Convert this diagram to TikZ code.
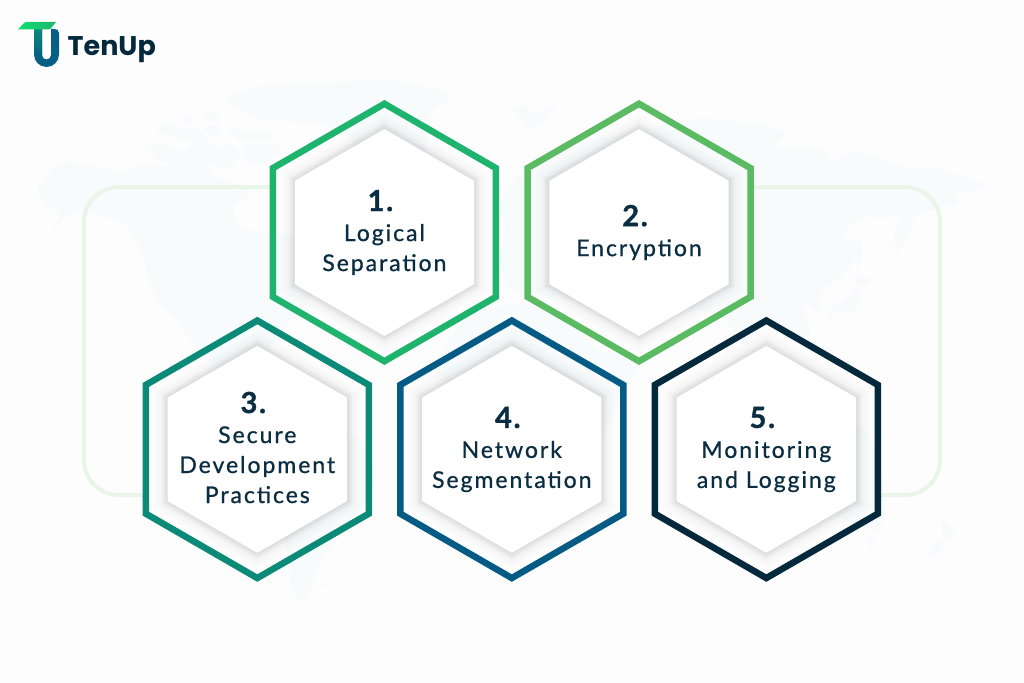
\documentclass[tikz,border=0pt]{standalone}
\usepackage{fontspec}
\setmainfont{Lato}
\newfontfamily\lblfont[LetterSpace=8.5,FakeBold=0.8]{Lato}
\newfontfamily\numfont[LetterSpace=6,FakeBold=1.2]{Lato}
\newfontfamily\logofont{Poppins}
\definecolor{pagebg}{HTML}{FDFDFD}
\definecolor{mapc}{HTML}{F7FBFC}
\definecolor{framec}{HTML}{E9F5E9}
\definecolor{inkc}{HTML}{0B2D42}
\definecolor{hexa}{HTML}{1FB46E}
\definecolor{hexb}{HTML}{5ABB62}
\definecolor{hexc}{HTML}{0B8A78}
\definecolor{hexd}{HTML}{065B85}
\definecolor{hexe}{HTML}{04293D}
\definecolor{logog}{HTML}{0CE070}
\tikzset{
  land/.style={fill=mapc,draw=none},
  frameline/.style={draw=framec,line width=4pt},
  hexlabel/.style={text=inkc,align=center,inner sep=0pt,font=\lblfont\fontsize{23}{30}\selectfont},
}
\newcommand{\numline}[1]{{\fontsize{29}{30}\selectfont\numfont\bfseries #1\kern8pt}}
\newcommand{\hexpath}[3]{(#1+#3*0.8660,#2-#3*0.5)--(#1,#2-#3)--(#1-#3*0.8660,#2-#3*0.5)--(#1-#3*0.8660,#2+#3*0.5)--(#1,#2+#3)--(#1+#3*0.8660,#2+#3*0.5)--cycle}
\newcommand{\landblob}[1]{\fill[land] plot[smooth cycle,tension=0.45] coordinates {#1};}
\newcommand{\hexcell}[6]{%
  \foreach \d in {1,2,3,4,5,6,7,8,9,10,11,12,13,14}{
    \draw[black,opacity=0.003,line width=2*\d pt,line join=miter] \hexpath{#2}{#3}{103.5};
  }
  \foreach \d in {1,2,3,4,5,6}{
    \draw[black,opacity=0.012,line width=2*\d pt,line join=miter] \hexpath{#2}{#3}{103.5};
  }
  \fill[white] \hexpath{#2}{#3}{103.5};
  \draw[#4,line width=6.5pt,line join=miter] \hexpath{#2}{#3}{128.75};
  \node[hexlabel] (#1) at (#2,#5) {#6};
}
\begin{document}
\begin{tikzpicture}[x=1pt,y=-1pt]
\useasboundingbox (0,0) rectangle (1024,682);
\fill[pagebg] (0,0) rectangle (1024,682);
% world map
\landblob{(38,188)(52,170)(67,162)(100,167)(120,172)(140,165)(167,167)(187,173)(217,177)(250,192)(233,207)(240,227)(270,233)(300,235)(330,225)(345,255)(320,285)(300,310)(275,340)(255,375)(300,420)(270,400)(235,385)(210,360)(193,343)(177,320)(157,300)(143,257)(137,243)(127,227)(100,215)(82,210)(63,220)(50,235)(60,215)(45,205)}
\landblob{(320,430)(360,440)(375,470)(368,500)(345,525)(325,555)(312,585)(305,600)(292,590)(285,540)(283,505)(295,465)}
\landblob{(227,100)(245,90)(270,85)(300,84)(345,82)(400,82)(450,95)(430,115)(425,150)(400,172)(370,160)(340,130)(300,122)(265,120)(245,112)}
\landblob{(156,128)(172,122)(176,130)(162,134)}
\landblob{(170,132)(192,128)(208,138)(190,142)}
\landblob{(152,143)(180,150)(200,155)(175,165)(155,158)}
\landblob{(205,128)(218,125)(222,134)(212,136)}
\landblob{(183,118)(190,114)(194,122)(186,126)}
\landblob{(203,112)(215,113)(220,120)(208,120)}
\landblob{(226,126)(245,132)(270,132)(270,140)(240,140)}
\landblob{(185,148)(205,142)(218,150)(212,165)(195,160)}
\landblob{(212,152)(232,145)(240,155)(225,170)(215,165)}
\landblob{(245,147)(275,145)(280,155)(255,165)(245,160)}
\landblob{(170,165)(200,162)(213,172)(190,176)}
\landblob{(512,108)(525,106)(533,115)(553,105)(552,112)(540,125)(527,128)(520,118)}
% Eurasia
\landblob{(500,200)(530,165)(590,140)(640,130)(700,118)(740,123)(760,124)(785,133)(773,145)(800,148)(820,147)(830,160)(857,152)(883,160)(907,167)(933,168)(967,177)(985,185)(973,192)(953,192)(957,203)(940,207)(917,215)(893,217)(880,218)(860,218)(842,235)(857,243)(853,263)(837,280)(823,290)(818,310)(803,300)(810,335)(795,340)(770,320)(745,345)(725,320)(700,310)(660,305)(620,295)(580,300)(540,295)(510,290)(500,260)(505,230)}
% Africa
\landblob{(470,315)(520,305)(570,320)(600,350)(640,360)(620,400)(605,430)(590,470)(560,500)(530,490)(515,430)(480,400)(445,385)(437,360)}
% Pacific islands
\landblob{(905,212)(917,205)(912,225)(905,240)(897,252)(895,230)}
\landblob{(858,240)(862,245)(862,258)(858,270)(856,255)}
\landblob{(853,280)(860,275)(870,280)(860,287)}
\landblob{(830,305)(845,300)(855,288)(860,295)(855,310)(838,312)}
\landblob{(827,314)(832,312)(832,322)(828,322)}
\landblob{(800,450)(840,425)(865,430)(880,470)(885,505)(878,530)(845,520)(815,500)(790,490)}
\landblob{(867,538)(875,538)(871,548)}
\landblob{(942,520)(955,530)(948,540)(943,535)}
\landblob{(940,540)(945,545)(932,558)(927,555)}
\landblob{(322,585)(328,584)(326,588)}
% frame
\coordinate (fa) at (272,187);
\coordinate (fb) at (146,495);
\coordinate (fc) at (752,187);
\coordinate (fd) at (880,495);
\draw[frameline] (fa) -- (119,187) arc[start angle=-90,end angle=-180,radius=35] -- (84,460) arc[start angle=180,end angle=90,radius=35] -- (fb);
\draw[frameline] (fc) -- (905,187) arc[start angle=-90,end angle=0,radius=35] -- (940,460) arc[start angle=0,end angle=90,radius=35] -- (fd);
% cells
\hexcell{one}{384.4}{232.5}{hexa}{232.5}{\numline{1.}\\Logical\\Separation}
\hexcell{two}{639}{232.5}{hexb}{232.5}{\numline{2.}\\Encryption}
\hexcell{three}{257.3}{449.3}{hexc}{447.5}{\numline{3.}\\Secure\\Development\\Practices}
\hexcell{four}{511.8}{449.3}{hexd}{449.5}{\numline{4.}\\Network\\Segmentation}
\hexcell{five}{766.3}{449.3}{hexe}{449.5}{\numline{5.}\\Monitoring\\and Logging}
% logo
\fill[hexd!90!hexc] (34,29) -- (34,54.5) arc[start angle=180,end angle=0,radius=12.5] -- (59,33) .. controls (59,30) and (57,29) .. (54,29) -- (51,29) -- (51,55) arc[start angle=0,end angle=180,radius=4.5] -- (42,29) -- cycle;
\shade[top color=hexc,bottom color=hexd!90!hexc] (34,29) -- (34,52) -- (42,56) -- (42,29) -- cycle;
\shade[left color=logog,right color=hexa] (18,29.5) -- (24,23) .. controls (25,22) and (26,22) .. (28,22) -- (56,22) -- (52,27) .. controls (51,29) and (50,29.5) .. (48,29.5) -- cycle;
\node[text=hexe,inner sep=0pt,anchor=base west,font=\logofont\bfseries\fontsize{27}{27}\selectfont] (brand) at (67.5,55.5) {TenUp};
\end{tikzpicture}
\end{document}
